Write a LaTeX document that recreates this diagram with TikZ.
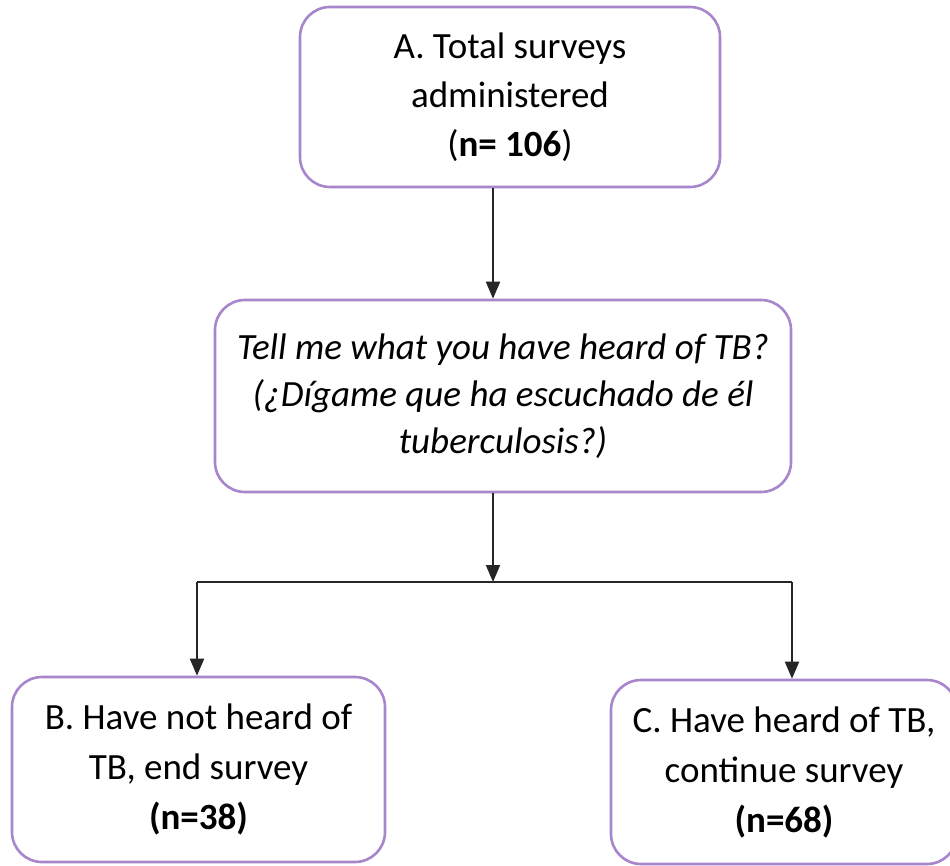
\documentclass[tikz,border=0pt]{standalone}
\usepackage{fontspec}
\setmainfont{Carlito}
\usetikzlibrary{arrows.meta}
\definecolor{boxpurple}{RGB}{168,134,204}
\tikzset{
  flowbox/.style={draw=boxpurple, line width=2.6pt, rounded corners=30pt, fill=white,
    align=center, inner sep=0pt, font=\fontsize{37}{49}\selectfont},
  conn/.style={draw=black!85, line width=2pt, -{Triangle[length=17pt,width=14pt]}},
  plainline/.style={draw=black!85, line width=2pt}
}
\begin{document}
\begin{tikzpicture}[x=1pt,y=-1pt]
\useasboundingbox (0,0) rectangle (950,866);
\fill[white] (0,0) rectangle (950,866);
\node[flowbox, minimum width=420pt, minimum height=180pt] (A) at (510,97)
  {A. Total surveys\\administered\\(\textbf{n= 106})};
\node[flowbox, minimum width=576pt, minimum height=192pt, font=\fontsize{37}{47}\selectfont\itshape] (Q) at (503,396)
  {Tell me what you have heard of TB?\\(¿Dígame que ha escuchado de él\\tuberculosis?)};
\node[flowbox, minimum width=373pt, minimum height=185pt, font=\fontsize{37}{50}\selectfont] (B) at (198.5,769.5)
  {B. Have not heard of\\TB, end survey\\\textbf{(n=38)}};
\node[flowbox, minimum width=346pt, minimum height=184pt, font=\fontsize{37}{50}\selectfont] (C) at (784,772)
  {C. Have heard of TB,\\continue survey\\\textbf{(n=68)}};
\coordinate (J) at (493,582);
\coordinate (JL) at (197,582);
\coordinate (JR) at (792,582);
\draw[conn] (A.south -| J) -- (Q.north -| J);
\draw[conn] (Q.south -| J) -- (J);
\draw[plainline] (JL) -- (JR);
\draw[conn] (JL) -- (B.north -| JL);
\draw[conn] (JR) -- (C.north -| JR);
\end{tikzpicture}
\end{document}
